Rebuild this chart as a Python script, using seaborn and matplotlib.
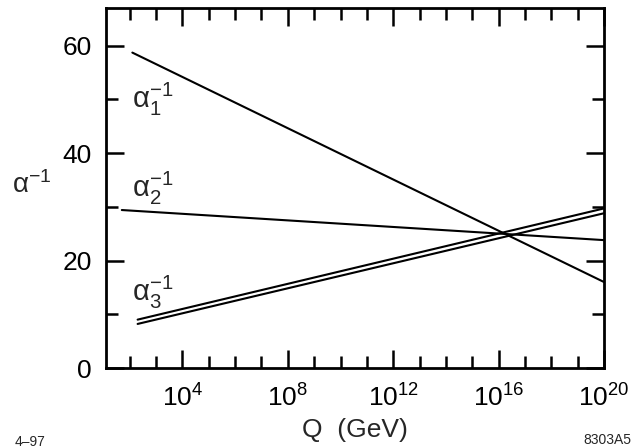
import numpy as np
import pandas as pd
import matplotlib
matplotlib.use("Agg")
import matplotlib.pyplot as plt
import matplotlib.ticker as mticker
import seaborn as sns

# Data (lines are straight in log Q)
q_a1 = [10.0**2.1, 1e20]
a1 = [58.7, 16.0]
q_a2 = [10.0**1.7, 1e20]
a2 = [29.4, 23.8]
q_a3 = [10.0**2.3, 1e20]
a3_upper = [9.0, 29.7]
a3_lower = [8.2, 28.8]

df = pd.concat([
    pd.DataFrame({"Q": q_a1, "ainv": a1, "s": "a1"}),
    pd.DataFrame({"Q": q_a2, "ainv": a2, "s": "a2"}),
    pd.DataFrame({"Q": q_a3, "ainv": a3_upper, "s": "a3u"}),
    pd.DataFrame({"Q": q_a3, "ainv": a3_lower, "s": "a3l"}),
], ignore_index=True)
df["Q"] = df["Q"].astype(float)

sns.set_style("white")
plt.rcParams["font.family"] = ["Liberation Sans", "DejaVu Sans"]
plt.rcParams["mathtext.fontset"] = "custom"
plt.rcParams["mathtext.rm"] = "Liberation Sans"
plt.rcParams["mathtext.it"] = "Liberation Sans:italic"
plt.rcParams["mathtext.default"] = "regular"

fig = plt.figure(figsize=(6.32, 4.48), dpi=100)
ax = fig.add_axes([106/632, 1 - 368/448, (604-106)/632, (368-8)/448])

sns.lineplot(data=df, x="Q", y="ainv", units="s", estimator=None,
             color="black", linewidth=1.5, ax=ax, legend=False, sort=False)

ax.set_xscale("log")
ax.set_xlim(10.0**1.1, 1e20)
ax.set_ylim(0, 67)

ax.xaxis.set_major_locator(mticker.FixedLocator([1e4, 1e8, 1e12, 1e16, 1e20]))
ax.xaxis.set_minor_locator(mticker.FixedLocator([10.0**k for k in range(2, 20) if k % 4 != 0]))
ax.xaxis.set_major_formatter(mticker.FixedFormatter(
    [r"$10^{4}$", r"$10^{8}$", r"$10^{12}$", r"$10^{16}$", r"$10^{20}$"]))
ax.xaxis.set_minor_formatter(mticker.NullFormatter())
ax.yaxis.set_major_locator(mticker.FixedLocator([0, 20, 40, 60]))
ax.yaxis.set_minor_locator(mticker.FixedLocator([10, 30, 50]))

ax.tick_params(which="both", direction="in", top=True, right=True,
               bottom=True, left=True, width=1.8, colors="black")
ax.tick_params(which="major", length=13, labelsize=19)
ax.tick_params(axis="x", which="major", pad=12)
ax.tick_params(axis="y", which="major", pad=10)
ax.tick_params(which="minor", length=8.5)
for sp in ax.spines.values():
    sp.set_linewidth(2.0)
    sp.set_color("black")

ax.set_xlabel("Q  (GeV)", fontsize=19)
ax.xaxis.set_label_coords(0.5, -0.14)
ax.set_ylabel(r"$\alpha^{-1}$", fontsize=20, rotation=0)
ax.yaxis.set_label_coords(-0.15, 0.47)

ax.text(10.0**2.1, 50, r"$\alpha_{1}^{-1}$", fontsize=21, va="center", ha="left")
ax.text(10.0**2.1, 33.5, r"$\alpha_{2}^{-1}$", fontsize=21, va="center", ha="left")
ax.text(10.0**2.1, 14, r"$\alpha_{3}^{-1}$", fontsize=21, va="center", ha="left")

fig.text(15/632, 1 - 442/448, "4–97", fontsize=10, va="center", ha="left")
fig.text(631/632, 1 - 440/448, "8303A5", fontsize=10, va="center", ha="right")

fig.savefig("out.png", dpi=100)
